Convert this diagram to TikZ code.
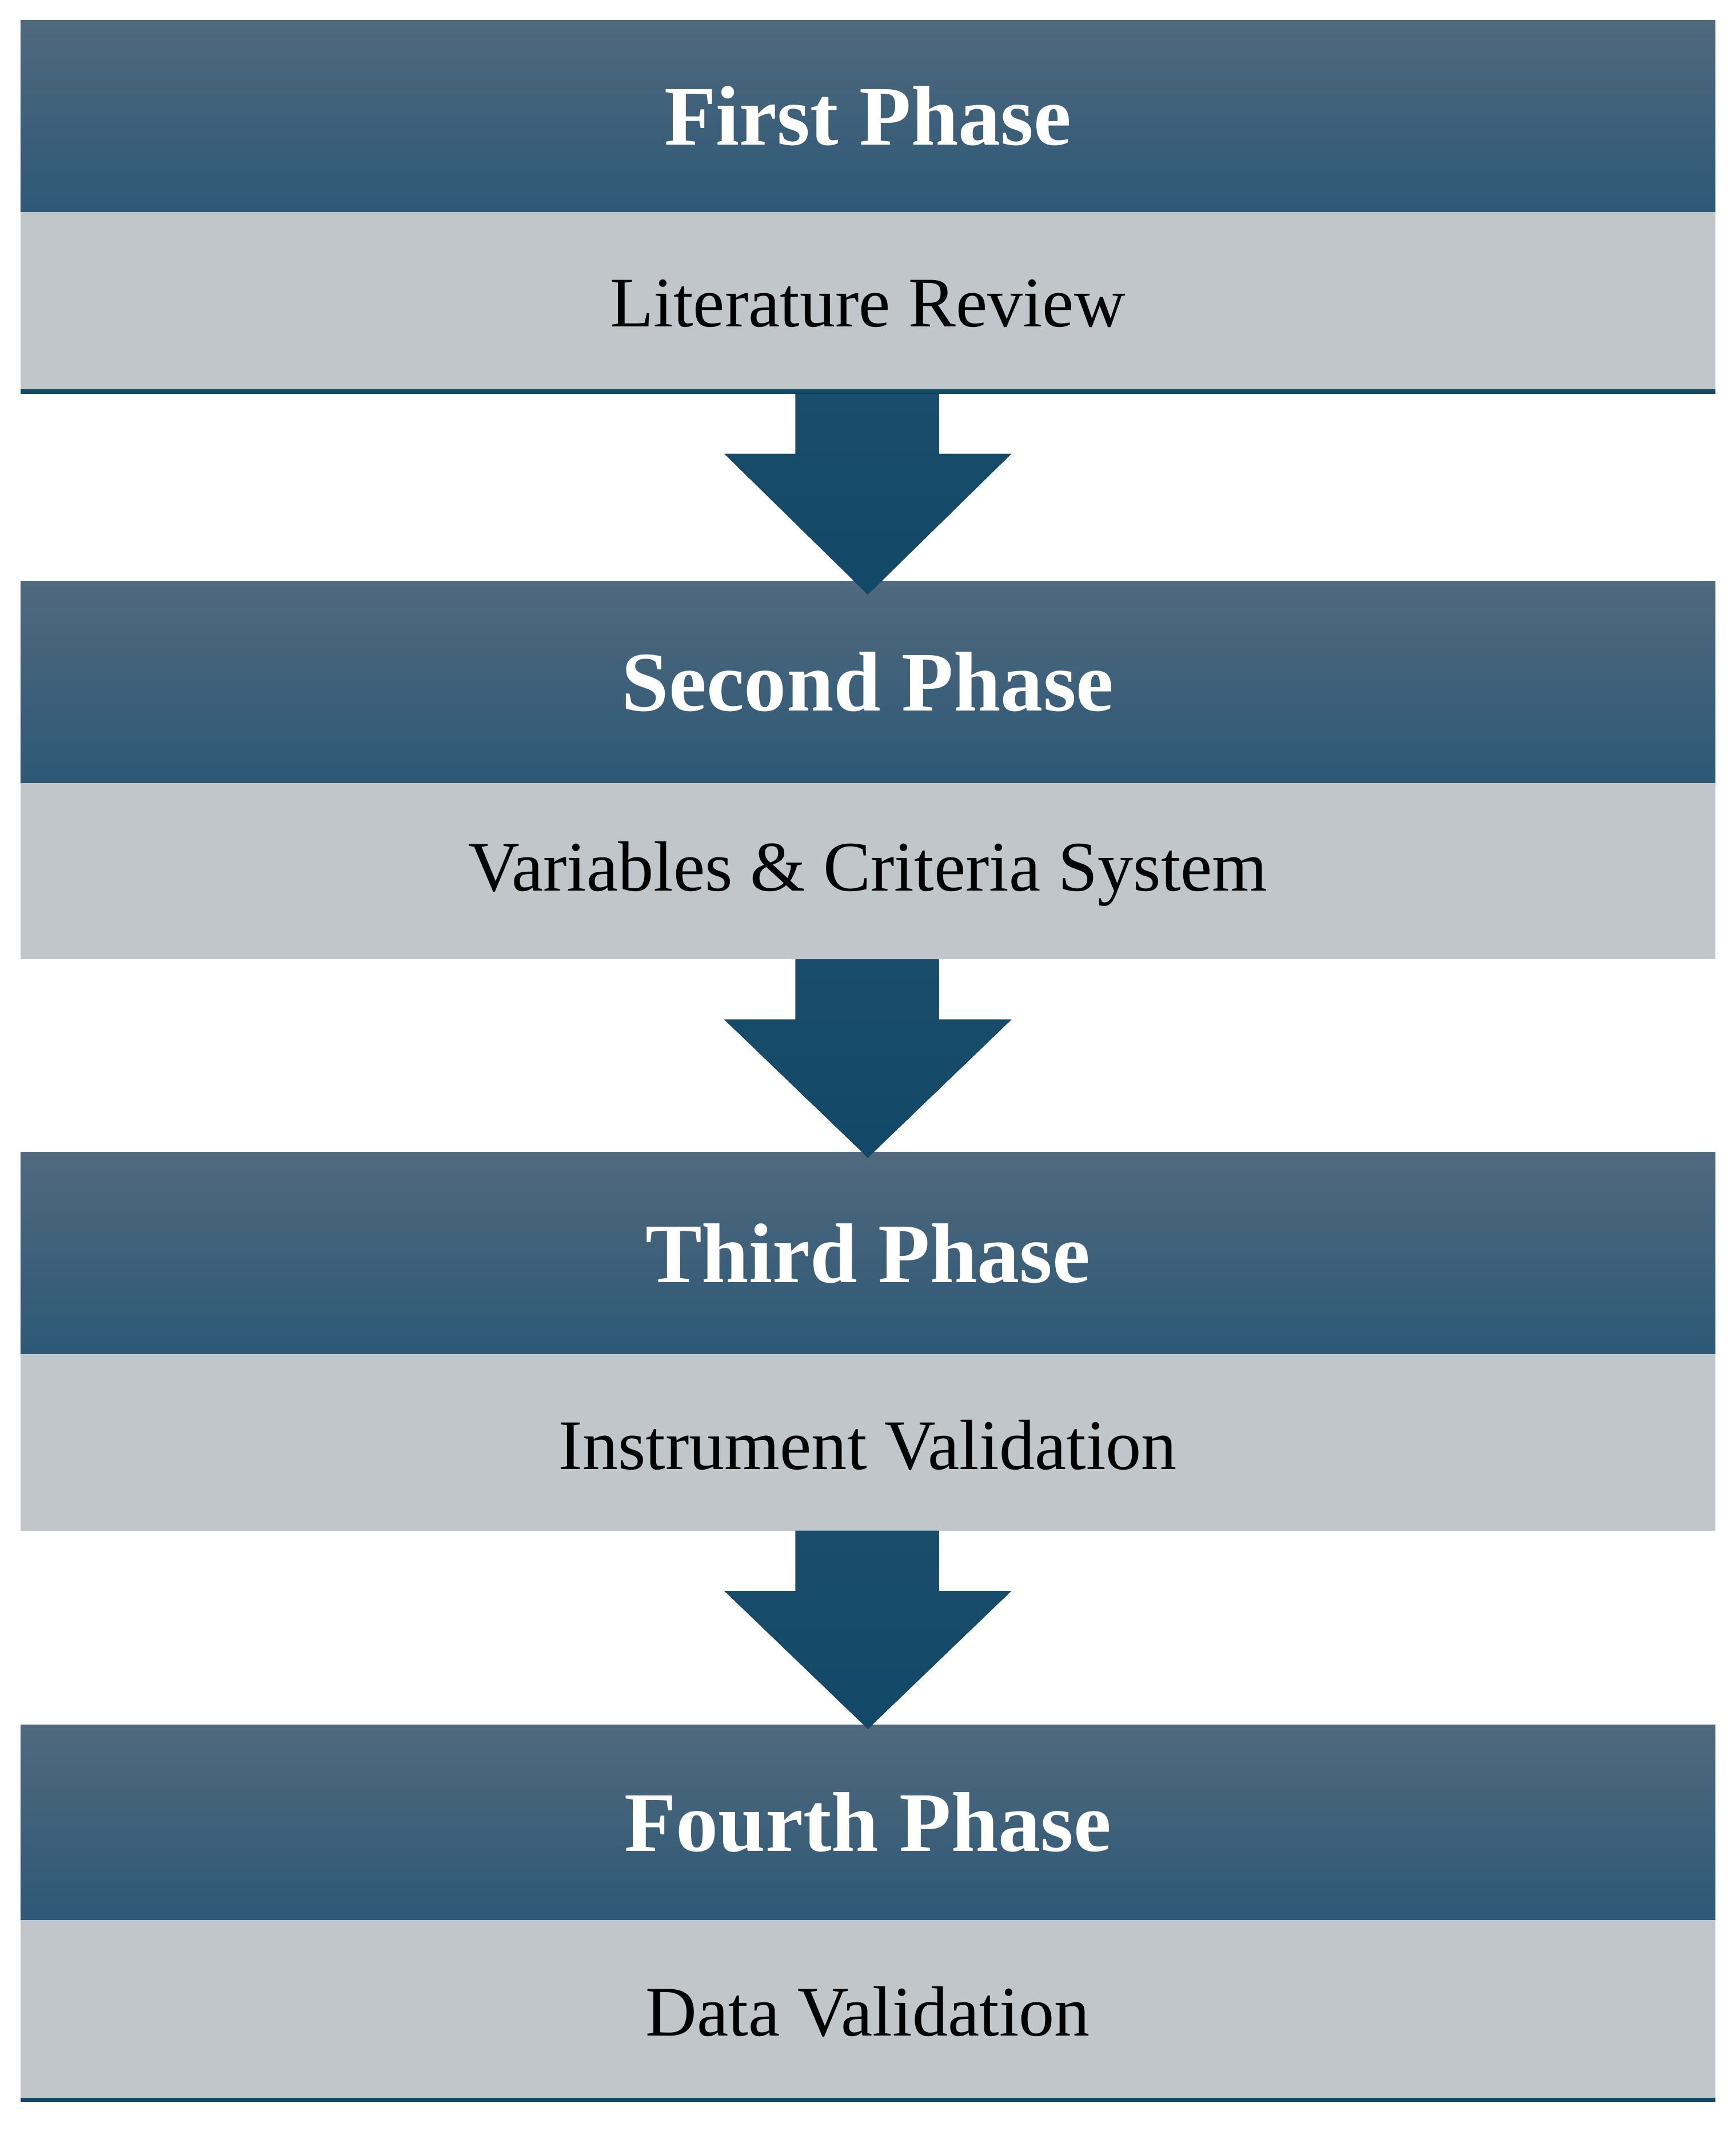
\documentclass[tikz,border=0pt]{standalone}
\usepackage{fontspec}
\setmainfont{Liberation Serif}
\begin{document}
\begin{tikzpicture}[x=0.5pt,y=-0.5pt]
\definecolor{htop}{HTML}{50697E}
\definecolor{hbot}{HTML}{2D5876}
\definecolor{gr}{HTML}{C0C6CA}
\definecolor{ar}{HTML}{124868}
\definecolor{artop}{HTML}{1A4D6B}
\tikzset{
 head/.style={top color=htop,bottom color=hbot,draw=none},
 body/.style={fill=gr,draw=none},
 htext/.style={text=white,font=\bfseries\fontsize{31}{36}\selectfont},
 btext/.style={text=black,font=\fontsize{26}{30}\selectfont},
 arr/.style={top color=artop,bottom color=ar,draw=none}}
\useasboundingbox (0,0) rectangle (1270,1568);
\foreach \t/\m/\b/\h/\s/\n in {15/155/285/First Phase/Literature Review/a,425/573/702/Second Phase/Variables \& Criteria System/b,843/991/1120/Third Phase/Instrument Validation/c,1262/1405/1535/Fourth Phase/Data Validation/d}{
 \fill[head] (15,\t) rectangle (1255,\m);
 \fill[body] (15,\m) rectangle (1255,\b);
 \node[htext] (h\n) at (635,{(\t+\m)/2}) {\h};
 \node[btext] (s\n) at (635,{(\m+\b)/2+2}) {\s};
}
\fill[ar] (15,285) rectangle (1255,288);
\fill[ar] (15,1535) rectangle (1255,1538);
\foreach \y/\e in {288/435,702/847,1120/1265}{
 \fill[arr] (582,\y) -- (687,\y) -- (687,{\y+44}) -- (740,{\y+44}) -- (635,\e) -- (530,{\y+44}) -- (582,{\y+44}) -- cycle;
}
\end{tikzpicture}
\end{document}
